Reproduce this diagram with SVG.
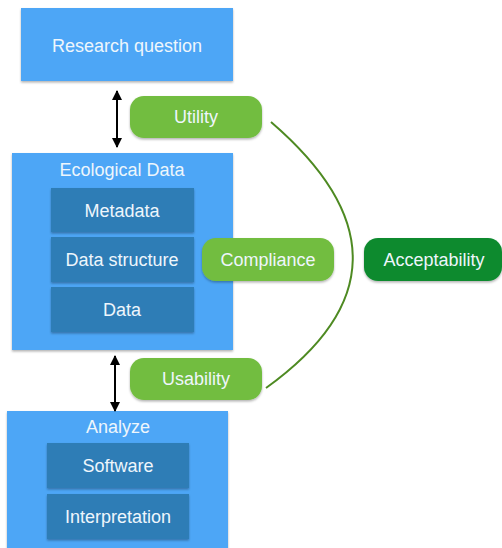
<svg xmlns="http://www.w3.org/2000/svg" width="502" height="548" viewBox="0 0 502 548">
<defs>
<filter id="sh" x="-10%" y="-10%" width="120%" height="130%">
<feDropShadow dx="0" dy="1.5" stdDeviation="1.2" flood-color="#000" flood-opacity="0.3"/>
</filter>
<marker id="ah" viewBox="0 0 10 10" refX="9" refY="5" markerWidth="5" markerHeight="5" orient="auto-start-reverse">
<path d="M0,0 L10,5 L0,10 z" fill="#000"/>
</marker>
<style>
.outer{fill:#4ea6f6;}
.inner{fill:#2f7db6;}
.pill{fill:#72bd40;}
.dark{fill:#0b8a2f;}
text{font-family:"Liberation Sans",Arial,sans-serif;font-size:18px;fill:#eef6fc;text-anchor:middle;dominant-baseline:central;}
.conn{stroke:#000;stroke-width:2;fill:none;}
</style>
</defs>
<rect width="502" height="548" fill="#fff"/>
<g id="research">
<rect class="outer" x="21" y="8" width="212" height="73" filter="url(#sh)"/>
<text x="127" y="46">Research question</text>
</g>
<g id="ecological">
<rect class="outer" x="12" y="153" width="221" height="197" filter="url(#sh)"/>
<text x="122" y="170">Ecological Data</text>
</g>
<g id="metadata">
<rect class="inner" x="51" y="188" width="143" height="44" filter="url(#sh)"/>
<text x="122" y="211">Metadata</text>
</g>
<g id="datastructure">
<rect class="inner" x="51" y="237" width="143" height="45" filter="url(#sh)"/>
<text x="122" y="260">Data structure</text>
</g>
<g id="data">
<rect class="inner" x="51" y="287" width="143" height="45" filter="url(#sh)"/>
<text x="122" y="310">Data</text>
</g>
<g id="analyze">
<rect class="outer" x="7" y="411" width="221" height="140" filter="url(#sh)"/>
<text x="118" y="427">Analyze</text>
</g>
<g id="software">
<rect class="inner" x="47" y="443" width="142" height="45" filter="url(#sh)"/>
<text x="118" y="466">Software</text>
</g>
<g id="interpretation">
<rect class="inner" x="47" y="494" width="142" height="45" filter="url(#sh)"/>
<text x="118" y="517">Interpretation</text>
</g>
<g id="connectors">
<line class="conn" x1="117" y1="91" x2="117" y2="147" marker-start="url(#ah)" marker-end="url(#ah)"/>
<line class="conn" x1="115" y1="356" x2="115" y2="411" marker-start="url(#ah)" marker-end="url(#ah)"/>
<path d="M271,122 Q437,265 266,388" fill="none" stroke="#4e8a22" stroke-width="2"/>
</g>
<g id="utility">
<rect class="pill" x="130" y="96" width="132" height="42" rx="14" filter="url(#sh)"/>
<text x="196" y="117">Utility</text>
</g>
<g id="compliance">
<rect class="pill" x="202" y="238" width="132" height="43" rx="14" filter="url(#sh)"/>
<text x="268" y="260">Compliance</text>
</g>
<g id="usability">
<rect class="pill" x="130" y="358" width="132" height="42" rx="14" filter="url(#sh)"/>
<text x="196" y="379">Usability</text>
</g>
<g id="acceptability">
<rect class="dark" x="364" y="238" width="138" height="43" rx="14" filter="url(#sh)"/>
<text x="434" y="260">Acceptability</text>
</g>
</svg>
